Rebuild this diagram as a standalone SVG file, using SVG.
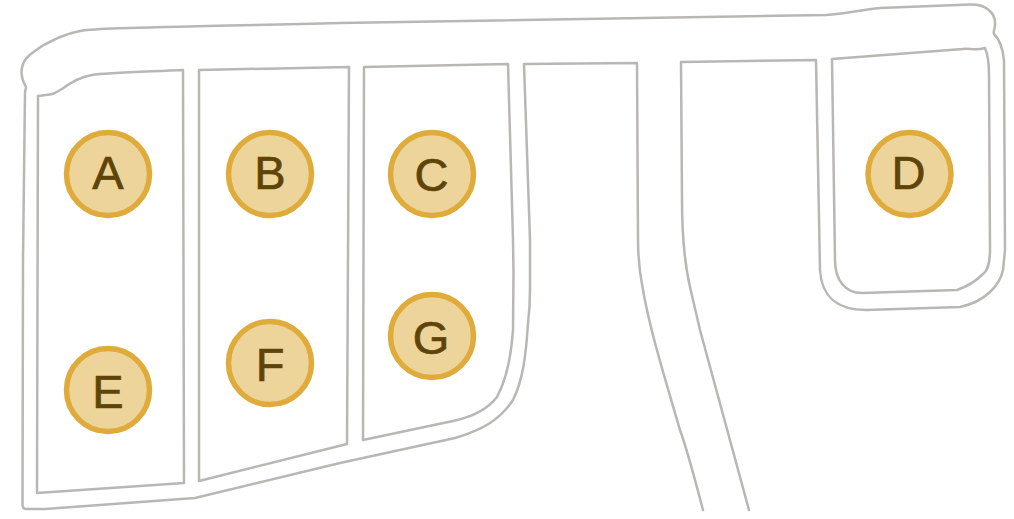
<svg xmlns="http://www.w3.org/2000/svg" width="1014" height="519" viewBox="0 0 1014 519">
<style>
.o{fill:none;stroke:#b9b7b4;stroke-width:2.500;stroke-linejoin:round;stroke-linecap:round}
.n circle{fill:#edd49a;stroke:#dfab3a;stroke-width:5.500}
.n text{font-family:"Liberation Sans",Arial,sans-serif;font-size:47px;fill:#5e4409;stroke:#5e4409;stroke-width:.7;text-anchor:middle}
</style>
<rect width="1014" height="519" fill="#fff"/>
<g id="outlines">
<path class="o" d="M703 510 C695 480 688 452 680 430 C664 375 650 330 643 290 C639 270 638 255 638 240 L637 63 L524 64 L530 240 L530 290 C530 305 529 315 528 323 C526 355 523 380 513 400 C500 420 482 430 455 438 L340 463 L195 498 L45 509 L26 509 Q22.500 509 22.500 504 L23 260 L25 92 Q26 88 26 87 C22 80 20 72 23 64 C26 56 34 52 42 46 C55 39 65 34 80 31 C100 28 130 28 340 23 L826 15 C845 14 860 10 880 8 L970 4.500 C985 4 996 12 995 25 C995 29 993 31 994 34 C1000 40 1003 50 1004 60 L1005 250 L1003 270 C1000 285 985 302 960 307 L866 310 C840 310 822 300 820 270 L816 60 L681 62 L682 200 C682 235 685 265 690 287 L700 330 L749 510"/>
<path class="o" d="M38 96 L50 94.500 C55 94 58 91 62 89 C70 83 80 77 92 75 C105 73 140 72 183 70 L184 483 L37 493 Z"/>
<path class="o" d="M199 70 L349 67 L347 444 L199 481 Z"/>
<path class="o" d="M364 67 L508 64 L513 240 L513.500 273 L513 330 C511 360 506 380 497 397 C487 410 472 417 453 421 L363 440 Z"/>
<path class="o" d="M832 59 L963 49 C970 48 975 51 985 48 C988 55 989 65 989 75 L990 250 C990 265 986 272 983 274 C975 282 966 287 957 290 L862 293 C845 293 835 280 835 260 Z"/>
</g>
<g id="node-a" class="n"><circle cx="108" cy="174" r="41.500"/><text x="108" y="189">A</text></g>
<g id="node-b" class="n"><circle cx="270" cy="174" r="41.500"/><text x="270" y="189">B</text></g>
<g id="node-c" class="n"><circle cx="432" cy="174" r="41.500"/><text x="431.500" y="191">C</text></g>
<g id="node-d" class="n"><circle cx="909.500" cy="174" r="41.500"/><text x="908.500" y="189">D</text></g>
<g id="node-e" class="n"><circle cx="108" cy="390" r="41.500"/><text x="108" y="407.500">E</text></g>
<g id="node-f" class="n"><circle cx="270" cy="363" r="41.500"/><text x="270" y="380.500">F</text></g>
<g id="node-g" class="n"><circle cx="432" cy="336" r="41.500"/><text x="431" y="353.500">G</text></g>
</svg>
